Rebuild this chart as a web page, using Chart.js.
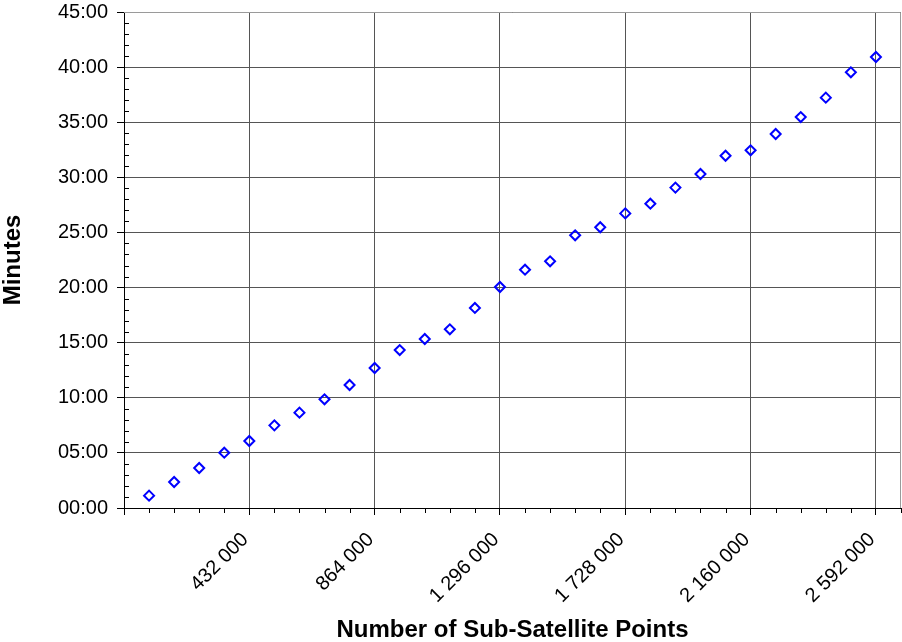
<!DOCTYPE html>
<html>
<head>
<meta charset="utf-8">
<script src="https://cdn.jsdelivr.net/npm/chart.js@4/dist/chart.umd.min.js"></script>
<style>
  html, body { margin: 0; padding: 0; background: #ffffff; }
  #wrap { width: 902px; height: 642px; }
</style>
</head>
<body>
<div id="wrap"><canvas id="c" width="902" height="642"></canvas></div>
<script>
// Number of sub-satellite points (x) and processing time in minutes (y)
const subSatellitePoints = [
  86400, 172800, 259200, 345600, 432000, 518400, 604800, 691200, 777600, 864000,
  950400, 1036800, 1123200, 1209600, 1296000, 1382400, 1468800, 1555200, 1641600, 1728000,
  1814400, 1900800, 1987200, 2073600, 2160000, 2246400, 2332800, 2419200, 2505600, 2592000
];
const minutes = [
  1.12, 2.36, 3.63, 5.02, 6.08, 7.50, 8.65, 9.86, 11.16, 12.70,
  14.33, 15.33, 16.21, 18.15, 20.05, 21.62, 22.38, 24.74, 25.47, 26.73,
  27.61, 29.07, 30.30, 31.96, 32.45, 33.93, 35.47, 37.23, 39.53, 40.92
];
// Axis ranges / tick values
const xRange = [0, 2678400];
const xMajorTicks = [0, 432000, 864000, 1296000, 1728000, 2160000, 2592000];
const xMinorStep = 86400;
const yRange = [0, 45];
const yMajorStep = 5;
const yMinorStep = 1;
const xTitle = 'Number of Sub-Satellite Points';
const yTitle = 'Minutes';

const points = subSatellitePoints.map((x, i) => ({ x: x, y: minutes[i] }));

function fmtThousands(v) {
  return String(v).replace(/\B(?=(\d{3})+(?!\d))/g, ' ');
}

const minorTicks = {
  id: 'minorTicks',
  afterDraw(chart) {
    const ctx = chart.ctx;
    const a = chart.chartArea;
    const xs = chart.scales.x, ys = chart.scales.y;
    ctx.save();
    // frame (top / right)
    ctx.strokeStyle = '#9a9a9a';
    ctx.lineWidth = 1;
    ctx.beginPath();
    ctx.moveTo(a.left, a.top + 0.5);
    ctx.lineTo(a.right - 0.5, a.top + 0.5);
    ctx.lineTo(a.right - 0.5, a.bottom);
    ctx.stroke();
    // minor ticks
    ctx.strokeStyle = '#000000';
    ctx.beginPath();
    for (let v = xRange[0]; v <= xRange[1]; v += xMinorStep) {
      if (xMajorTicks.indexOf(v) !== -1) continue;
      const px = Math.round(xs.getPixelForValue(v)) + 0.5;
      ctx.moveTo(px, a.bottom);
      ctx.lineTo(px, a.bottom + 5);
    }
    for (let v = yRange[0]; v <= yRange[1]; v += yMinorStep) {
      if (v % yMajorStep === 0) continue;
      const py = Math.round(ys.getPixelForValue(v)) + 0.5;
      ctx.moveTo(a.left, py);
      ctx.lineTo(a.left + 5, py);
    }
    ctx.stroke();
    ctx.restore();
  }
};

new Chart(document.getElementById('c'), {
  type: 'scatter',
  data: {
    datasets: [{
      data: points,
      pointStyle: 'rectRot',
      pointRadius: 5,
      pointHoverRadius: 5,
      pointBorderWidth: 2,
      borderColor: '#0000ff',
      backgroundColor: 'rgba(255,255,255,0)',
      clip: false
    }]
  },
  options: {
    responsive: false,
    animation: false,
    events: [],
    layout: { autoPadding: false, padding: { top: 12, right: 1, left: 0, bottom: 0 } },
    plugins: { legend: { display: false }, tooltip: { enabled: false } },
    scales: {
      x: {
        type: 'linear',
        position: 'bottom',
        min: xRange[0],
        max: xRange[1],
        afterBuildTicks(s) { s.ticks = xMajorTicks.map(v => ({ value: v })); },
        afterFit(s) { s.height = 134; s.paddingLeft = 0; s.paddingRight = 0; },
        ticks: {
          autoSkip: false,
          minRotation: 45,
          maxRotation: 45,
          padding: 13,
          labelOffset: -4,
          color: '#000000',
          font: { family: '"Liberation Sans", Arial, sans-serif', size: 20 },
          callback: (v) => v === 0 ? '' : fmtThousands(v)
        },
        grid: { color: '#555555', tickColor: '#000000', tickLength: 7, lineWidth: 1 },
        border: { color: '#000000', width: 1 },
        title: {
          display: true,
          text: xTitle,
          color: '#000000',
          padding: { top: 0, bottom: 0 },
          font: { family: '"Liberation Sans", Arial, sans-serif', size: 24, weight: 'bold', lineHeight: 0.95 }
        }
      },
      y: {
        type: 'linear',
        min: yRange[0],
        max: yRange[1],
        afterFit(s) { s.width = 124; s.paddingTop = 0; s.paddingBottom = 0; },
        ticks: {
          stepSize: yMajorStep,
          includeBounds: false,
          padding: 9,
          color: '#000000',
          font: { family: '"Liberation Sans", Arial, sans-serif', size: 20 },
          callback: (v) => String(v).padStart(2, '0') + ':00'
        },
        grid: { color: '#555555', tickColor: '#000000', tickLength: 7, lineWidth: 1 },
        border: { color: '#000000', width: 1 },
        title: {
          display: true,
          text: yTitle,
          color: '#000000',
          padding: { top: 0, bottom: 0 },
          font: { family: '"Liberation Sans", Arial, sans-serif', size: 24, weight: 'bold', lineHeight: 1.15 }
        }
      }
    }
  },
  plugins: [minorTicks]
});
</script>
</body>
</html>
